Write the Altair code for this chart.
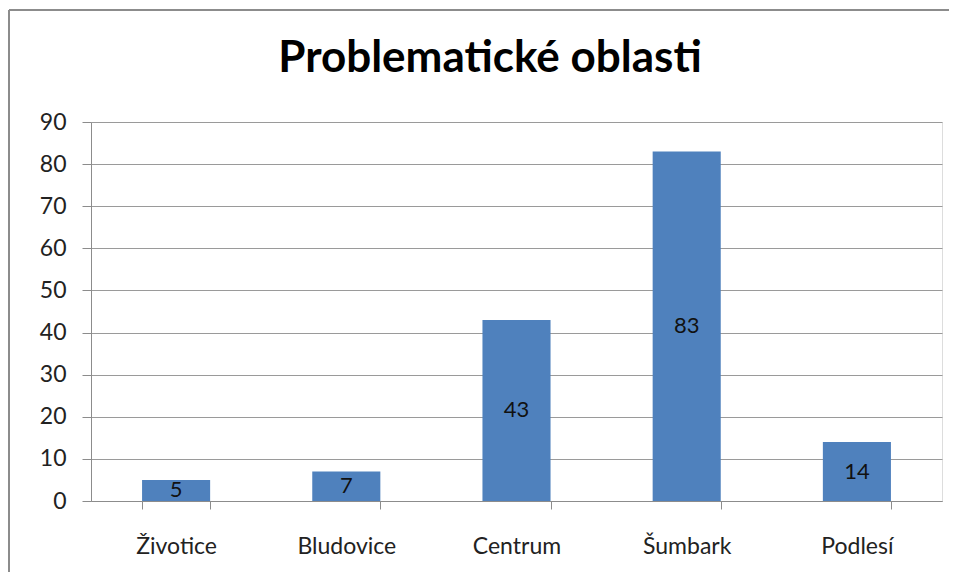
import altair as alt
import pandas as pd

categories = ["Životice", "Bludovice", "Centrum", "Šumbark", "Podlesí"]
values = [5, 7, 43, 83, 14]
y_ticks = [0, 10, 20, 30, 40, 50, 60, 70, 80, 90]
title_text = "Problematické oblasti"

df = pd.DataFrame({"oblast": categories, "pocet": values})
df["mid"] = df["pocet"] / 2

FONT = "Lato"
W, H = 851, 379
SVG_W, SVG_H = 941, 564
PAD_L, PAD_T = 83, 114

x = alt.X("oblast:N", sort=categories, title=None,
          scale=alt.Scale(paddingInner=0.6, paddingOuter=0.3),
          axis=alt.Axis(labelAngle=0, tickBand="extent", labelFont=FONT, labelFontSize=23,
                        labelColor="#222222", labelPadding=26, tickSize=8, tickColor="#8C8C8C",
                        domainColor="#8C8C8C", grid=False))

bars = alt.Chart(df).mark_bar(color="#4F81BD").encode(
    x=x,
    y=alt.Y("pocet:Q", title=None,
            scale=alt.Scale(domain=[0, 90], nice=False),
            axis=alt.Axis(values=y_ticks, labelFont=FONT, labelFontSize=23, labelColor="#222222",
                          labelPadding=16, tickSize=9, tickColor="#8C8C8C", domainColor="#8C8C8C",
                          gridColor="#9A9A9A", gridWidth=1.2)),
)

labels = alt.Chart(df).mark_text(font=FONT, fontSize=22, color="#111111", baseline="middle").encode(
    x=alt.X("oblast:N", sort=categories),
    y=alt.Y("mid:Q"),
    text=alt.Text("pocet:Q"),
)

title_df = pd.DataFrame({"t": [title_text]})
title = alt.Chart(title_df).mark_text(font=FONT, fontSize=44, fontWeight="bold", color="#000000",
                                      align="center", baseline="alphabetic").encode(
    x=alt.value(399), y=alt.value(-50), text="t:N",
)

frame_top = alt.Chart(title_df).mark_rule(stroke="#8C8C8C", strokeWidth=2, clip=False).encode(
    x=alt.value(-82), x2=alt.value(SVG_W - PAD_L), y=alt.value(-112),
)
frame_left = alt.Chart(title_df).mark_rule(stroke="#8C8C8C", strokeWidth=2, clip=False).encode(
    x=alt.value(-82), y=alt.value(-112), y2=alt.value(SVG_H - PAD_T),
)

chart = alt.layer(bars, labels, title, frame_top, frame_left).properties(
    width=W, height=H,
    autosize=alt.AutoSizeParams(type="none"),
    padding={"left": PAD_L, "top": PAD_T, "right": SVG_W - PAD_L - W, "bottom": SVG_H - PAD_T - H},
).configure_view(stroke=None).configure(background="white")

chart.save("out.html", embed_options={"renderer": "svg", "actions": False})
